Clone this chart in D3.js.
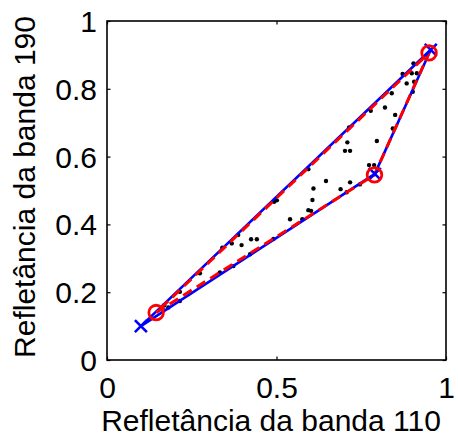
<!DOCTYPE html>
<html>
<head>
<meta charset="utf-8">
<script src="https://cdn.jsdelivr.net/npm/d3@7"></script>
<style>
  html, body { margin: 0; padding: 0; background: #fff; }
  svg { display: block; }
  text { font-family: "Liberation Sans", Arial, Helvetica, sans-serif; fill: #000; }
</style>
</head>
<body>
<svg id="chart" width="458" height="438"></svg>
<script>
// ---- data ----
const xTicks = [0, 0.5, 1];
const yTicks = [0, 0.2, 0.4, 0.6, 0.8, 1];
const xTickLabels = ["0", "0.5", "1"];
const yTickLabels = ["0", "0.2", "0.4", "0.6", "0.8", "1"];
const xLabel = "Refletância da banda 110";
const yLabel = "Refletância da banda 190";

// pixel samples (reflectance, band 110 vs band 190)
const pixelX = [0.904, 0.899, 0.914, 0.872, 0.884, 0.906, 0.840, 0.902, 0.778, 0.820,
                0.850, 0.714, 0.843, 0.709, 0.796, 0.702, 0.717, 0.773, 0.788, 0.746,
                0.717, 0.689, 0.707, 0.646, 0.594, 0.609, 0.606, 0.594, 0.602, 0.576,
                0.540, 0.493, 0.501, 0.387, 0.368, 0.397, 0.425, 0.442, 0.491, 0.422,
                0.340, 0.373, 0.333, 0.274, 0.215, 0.215, 0.181, 0.169];
const pixelY = [0.875, 0.846, 0.846, 0.844, 0.816, 0.821, 0.787, 0.791, 0.735, 0.745,
                0.723, 0.686, 0.683, 0.642, 0.646, 0.617, 0.617, 0.575, 0.575, 0.518,
                0.524, 0.504, 0.495, 0.528, 0.563, 0.506, 0.472, 0.442, 0.440, 0.415,
                0.415, 0.467, 0.471, 0.369, 0.344, 0.339, 0.356, 0.356, 0.357, 0.312,
                0.331, 0.277, 0.258, 0.256, 0.201, 0.174, 0.155, 0.161];

// endmember simplex A (blue, x markers)
const endmemberAX = [0.100, 0.790, 0.955];
const endmemberAY = [0.100, 0.549, 0.915];
// endmember simplex B (red, circles)
const endmemberBX = [0.145, 0.789, 0.950];
const endmemberBY = [0.140, 0.546, 0.906];

// ---- drawing ----
const svg = d3.select("#chart");
svg.append("rect").attr("width", 458).attr("height", 438).attr("fill", "#fff");

const x = d3.scaleLinear().domain([0, 1]).range([107, 446]);
const y = d3.scaleLinear().domain([0, 1]).range([360, 21]);

const fs = 30;
const tickLen = 3.5;

// axes (ticks inward on all sides)
const gB = svg.append("g").attr("transform", `translate(0,${y(0)})`)
  .call(d3.axisBottom(x).tickValues(xTicks).tickSize(-tickLen).tickFormat((d, i) => xTickLabels[i]).tickPadding(0));
const gT = svg.append("g").attr("transform", `translate(0,${y(1)})`)
  .call(d3.axisTop(x).tickValues(xTicks).tickSize(-tickLen).tickFormat(""));
const gL = svg.append("g").attr("transform", `translate(${x(0)},0)`)
  .call(d3.axisLeft(y).tickValues(yTicks).tickSize(-tickLen).tickFormat((d, i) => yTickLabels[i]).tickPadding(0));
const gR = svg.append("g").attr("transform", `translate(${x(1)},0)`)
  .call(d3.axisRight(y).tickValues(yTicks).tickSize(-tickLen).tickFormat(""));

[gB, gT, gL, gR].forEach(g => {
  g.select(".domain").remove();
  g.selectAll(".tick line").attr("stroke", "#000").attr("stroke-width", 1.2);
  g.selectAll("text").attr("font-size", fs).attr("font-family", '"Liberation Sans", Arial, sans-serif').attr("fill", "#000");
});
gB.selectAll(".tick text").attr("dy", null).attr("y", 38).attr("text-anchor", "middle");
gL.selectAll(".tick text").attr("dy", null).attr("x", -10).attr("y", 10.5).attr("text-anchor", "end");

// box
svg.append("rect")
  .attr("x", x(0)).attr("y", y(1))
  .attr("width", x(1) - x(0)).attr("height", y(0) - y(1))
  .attr("fill", "none").attr("stroke", "#000").attr("stroke-width", 1.6);

// pixels
svg.append("g").selectAll("circle")
  .data(pixelX.map((v, i) => [v, pixelY[i]]))
  .join("circle")
  .attr("cx", d => x(d[0])).attr("cy", d => y(d[1]))
  .attr("r", 2.2).attr("fill", "#000");

// triangles
const tri = (xs, ys) => {
  const pts = xs.map((v, i) => [x(v), y(ys[i])]);
  return d3.line()(pts.concat([pts[0]]));
};
svg.append("path").attr("d", tri(endmemberAX, endmemberAY))
  .attr("fill", "none").attr("stroke", "#0000ff").attr("stroke-width", 2.6).attr("stroke-linejoin", "round");
svg.append("path").attr("d", tri(endmemberBX, endmemberBY))
  .attr("fill", "none").attr("stroke", "#ff0000").attr("stroke-width", 3)
  .attr("stroke-dasharray", "10,6");

// blue x markers
const xm = 6;
svg.append("g").selectAll("path")
  .data(endmemberAX.map((v, i) => [v, endmemberAY[i]]))
  .join("path")
  .attr("d", d => {
    const cx = x(d[0]), cy = y(d[1]);
    return `M${cx - xm},${cy - xm}L${cx + xm},${cy + xm}M${cx - xm},${cy + xm}L${cx + xm},${cy - xm}`;
  })
  .attr("stroke", "#0000ff").attr("stroke-width", 2.6).attr("fill", "none");

// red circle markers
svg.append("g").selectAll("circle")
  .data(endmemberBX.map((v, i) => [v, endmemberBY[i]]))
  .join("circle")
  .attr("cx", d => x(d[0])).attr("cy", d => y(d[1]))
  .attr("r", 7.3).attr("fill", "none").attr("stroke", "#ff0000").attr("stroke-width", 2.8);

// axis labels
svg.append("text").attr("x", 271).attr("y", 431)
  .attr("text-anchor", "middle").attr("font-size", fs).text(xLabel);
svg.append("text").attr("transform", "translate(35,187) rotate(-90)")
  .attr("text-anchor", "middle").attr("font-size", fs).text(yLabel);
</script>
</body>
</html>
